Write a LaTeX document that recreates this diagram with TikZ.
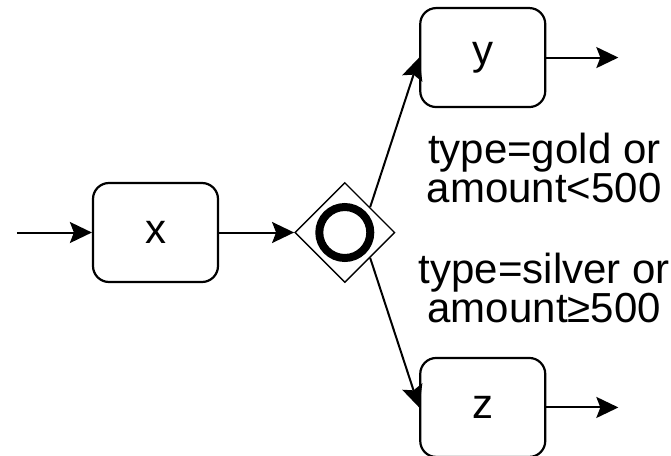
\documentclass[tikz,border=0pt]{standalone}
\usepackage{fontspec}
\setmainfont{Liberation Sans}
\usepackage{tikz}
\usetikzlibrary{shapes,arrows.meta,positioning}

\begin{document}
\begin{tikzpicture}[
                    taskbox/.style={draw, line width=1.1pt, rounded corners=8pt, minimum width=62.5pt, minimum height=49.5pt},
                    gatebox/.style={draw, diamond, line width=0.7pt, inner sep=0pt, minimum width=50pt, minimum height=50pt},
                    condlabel/.style={align=center, inner sep=0pt},
                    flow/.style={line width=1pt, -{Stealth[length=11pt, width=10.5pt, inset=2pt]}},
                    node distance=37.5pt,
                    font=\fontsize{21}{19.5}\selectfont
                ]
                    \useasboundingbox (0,0) rectangle (335.5pt,-228pt);
                    \node[taskbox] (x) at (77.75pt,-116.25pt) {x};
                    \coordinate[left=of x] (start);
                    \node[gatebox, right=of x] (gate) {};
                    \draw[line width=4pt] (gate.center) circle (12.75pt);
                    \node[taskbox, above right=49.5pt and 24.5pt of gate] (y) {y};
                    \node[taskbox, below right=49.5pt and 24.5pt of gate] (z) {z};
                    \coordinate[right=36pt of y] (yend);
                    \coordinate[right=36pt of z] (zend);

                    \node[condlabel, below=12.5pt of y, xshift=30.75pt] (gold) {type=gold or\\amount<500};
                    \node[condlabel, above=17pt of z, xshift=30.75pt] (silver) {type=silver or\\amount≥500};

                    \draw[flow] (start) -- (x);
                    \draw[flow] (x) -- (gate);
                    \draw[flow] (gate.north east) -- (y.west);
                    \draw[flow] (gate.south east) -- (z.west);
                    \draw[flow] (y) -- (yend);
                    \draw[flow] (z) -- (zend);
                \end{tikzpicture}
\end{document}
